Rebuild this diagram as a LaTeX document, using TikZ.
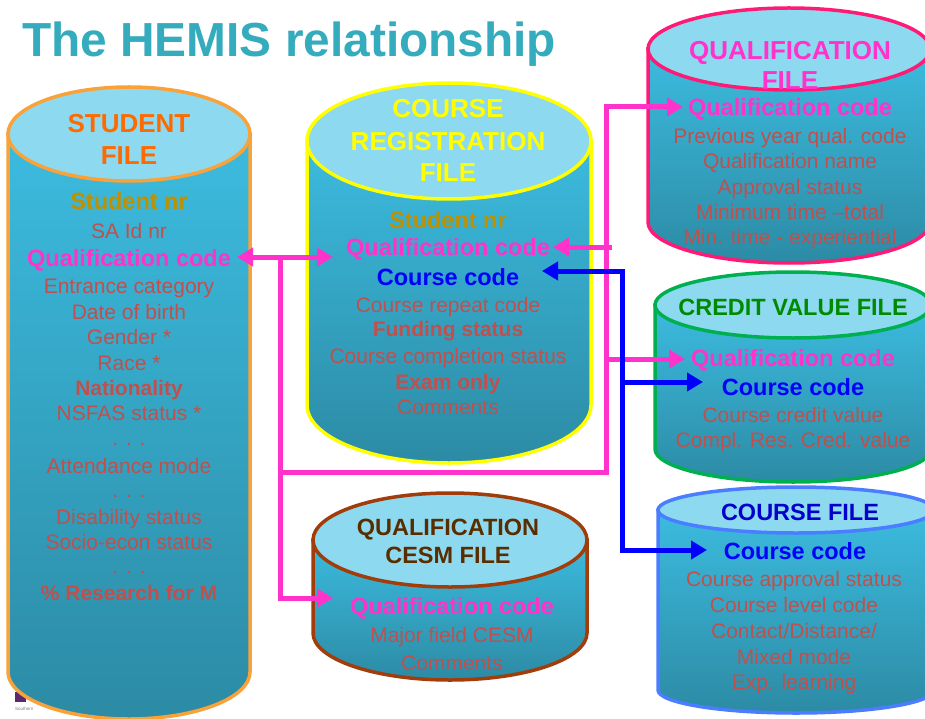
\documentclass[tikz,border=0pt]{standalone}
\usepackage{fontspec}
\setmainfont{Liberation Sans}
\usetikzlibrary{arrows.meta}
\definecolor{bodytop}{HTML}{3CBBDF}
\definecolor{bodybot}{HTML}{2C8BA5}
\definecolor{lidcol}{HTML}{8DD9EF}
\definecolor{fieldred}{HTML}{C0504D}
\definecolor{goldtxt}{HTML}{BF9000}
\definecolor{magtxt}{HTML}{FF33CC}
\definecolor{bluetxt}{HTML}{0000FF}
\definecolor{titlecol}{HTML}{35ACBD}
\definecolor{orangetxt}{HTML}{FF6A00}
\definecolor{yellowtxt}{HTML}{FFFF00}
\definecolor{greentxt}{HTML}{008A00}
\definecolor{navytxt}{HTML}{0000CC}
\definecolor{browntxt}{HTML}{5A2D00}
\definecolor{bdorange}{HTML}{F9A23A}
\definecolor{bdyellow}{HTML}{FFFF00}
\definecolor{bdpink}{HTML}{FF1A75}
\definecolor{bdgreen}{HTML}{00B050}
\definecolor{bdblue}{HTML}{4A7DFF}
\definecolor{bdbrown}{HTML}{A13D0A}
\definecolor{pinkline}{HTML}{FF33CC}
\definecolor{blueline}{HTML}{0000FF}
\definecolor{logopurple}{HTML}{5B2A6E}

\newcommand{\dbcyl}[6]{%
  \pgfmathsetmacro\xl{#1-#4}\pgfmathsetmacro\xr{#1+#4}%
  \pgfmathsetmacro\kx{0.5523*#4}\pgfmathsetmacro\ky{0.5523*#5}%
  \pgfmathsetmacro\yb{#3+#5}%
  \pgfmathsetmacro\ykb{#3+\ky}%
  \pgfmathsetmacro\xkl{#1-\kx}\pgfmathsetmacro\xkr{#1+\kx}%
  \shade[top color=bodytop,bottom color=bodybot,draw=#6,line width=3.5pt]
    (\xl,#2) -- (\xl,#3) .. controls (\xl,\ykb) and (\xkl,\yb) .. (#1,\yb)
    .. controls (\xkr,\yb) and (\xr,\ykb) .. (\xr,#3) -- (\xr,#2) -- cycle;
  \filldraw[fill=lidcol,draw=#6,line width=3.5pt] (#1,#2) ellipse [x radius=#4, y radius=#5];
}

\begin{document}
\begin{tikzpicture}[x=1pt,y=-1pt,
  every node/.style={inner sep=0pt,anchor=center,text depth=0pt},
  fld/.style={text=fieldred,font=\fontsize{21}{25}\selectfont,text height=15pt},
  fldb/.style={text=fieldred,font=\fontsize{21}{25}\selectfont\bfseries,text height=15pt},
  keyf/.style={font=\fontsize{23.5}{28}\selectfont\bfseries,text height=17pt},
  hdrL/.style={font=\fontsize{26}{31}\selectfont\bfseries,text height=18.7pt},
  hdrS/.style={font=\fontsize{23.5}{28}\selectfont\bfseries,text height=17pt},
  pk/.style={draw=pinkline,line width=5pt},
  bl/.style={draw=blueline,line width=5pt},
  arr/.tip={Triangle[length=16pt,width=18pt]}
]
\useasboundingbox (0,0) rectangle (925,719);
\fill[white] (0,0) rectangle (925,719);

% title
\node[anchor=west,text=titlecol,font=\fontsize{47.8}{56}\selectfont\bfseries,text height=34pt] (title) at (22,40) {The HEMIS relationship};

% logo fragment
\fill[logopurple] (15,692) rectangle (26,702);
\node[anchor=west,text=gray,font=\fontsize{4.5}{5}\selectfont,text height=3pt] (logo) at (15,709) {Southern};

% cylinders
\dbcyl{129}{134}{672}{121}{47}{bdorange}
\dbcyl{449}{141}{405}{142}{58}{bdyellow}
\dbcyl{789}{49}{222}{141}{41}{bdpink}
\dbcyl{793}{305}{449}{138}{33}{bdgreen}
\dbcyl{796}{510}{690}{138}{23}{bdblue}
\dbcyl{450}{540}{633}{137}{47}{bdbrown}

% STUDENT FILE
\node[hdrL,text=orangetxt] (sH1) at (129,123) {STUDENT};
\node[hdrL,text=orangetxt] (sH2) at (129,155) {FILE};
\node[keyf,text=goldtxt] (sStu) at (129,201) {Student nr};
\node[fld] (sId) at (129,231) {SA Id nr};
\node[keyf,text=magtxt] (sQual) at (129,258) {Qualification code};
\node[fld] (sEnt) at (129,286) {Entrance category};
\node[fld] (sDob) at (129,312) {Date of birth};
\node[fld] (sGen) at (129,337) {Gender *};
\node[fld] (sRace) at (129,363) {Race *};
\node[fldb] (sNat) at (129,388) {Nationality};
\node[fld] (sNsf) at (129,413) {NSFAS status *};
\node[fld] (sDot1) at (129,438) {. . .};
\node[fld] (sAtt) at (129,466) {Attendance mode};
\node[fld] (sDot2) at (129,490) {. . .};
\node[fld] (sDis) at (129,517) {Disability status};
\node[fld] (sSoc) at (129,542) {Socio-econ status};
\node[fld] (sDot3) at (129,566) {. . .};
\node[fldb] (sRes) at (129,593) {\% Research for M};

% COURSE REGISTRATION FILE
\node[hdrL,text=yellowtxt] (cH1) at (448,108) {COURSE};
\node[hdrL,text=yellowtxt] (cH2) at (448,141) {REGISTRATION};
\node[hdrL,text=yellowtxt] (cH3) at (448,172) {FILE};
\node[keyf,text=goldtxt] (crStu) at (448,220) {Student nr};
\node[keyf,text=magtxt] (crQual) at (448,247) {Qualification code};
\node[keyf,text=bluetxt] (crCourse) at (448,277) {Course code};
\node[fld] (crRep) at (448,305) {Course repeat code};
\node[fldb] (crFun) at (448,329) {Funding status};
\node[fld] (crComp) at (448,356) {Course completion status};
\node[fldb] (crExam) at (448,382) {Exam only};
\node[fld] (crCom) at (448,407) {Comments};

% QUALIFICATION FILE
\node[hdrL,text=magtxt] (qH1) at (790,50) {QUALIFICATION};
\node[hdrL,text=magtxt] (qH2) at (790,80) {FILE};
\node[keyf,text=magtxt] (qfQual) at (790,107) {Qualification code};
\node[fld] (qPrev) at (790,136) {Previous year qual. code};
\node[fld] (qName) at (790,161) {Qualification name};
\node[fld] (qAppr) at (790,187) {Approval status};
\node[fld] (qMin) at (790,212) {Minimum time --total};
\node[fld] (qMinE) at (790,237) {Min. time - experiential};

% CREDIT VALUE FILE
\node[hdrS,text=greentxt] (cvH) at (793,307) {CREDIT VALUE FILE};
\node[keyf,text=magtxt] (cvQual) at (793,358) {Qualification code};
\node[keyf,text=bluetxt] (cvCourse) at (793,387) {Course code};
\node[fld] (cvVal) at (793,415) {Course credit value};
\node[fld] (cvRes) at (793,440) {Compl. Res. Cred. value};

% COURSE FILE
\node[hdrS,text=navytxt] (cfH) at (800,512) {COURSE FILE};
\node[keyf,text=bluetxt] (cfCourse) at (795,551) {Course code};
\node[fld] (cfAppr) at (794,579) {Course approval status};
\node[fld] (cfLev) at (794,605) {Course level code};
\node[fld] (cfCon) at (794,631) {Contact/Distance/};
\node[fld] (cfMix) at (794,657) {Mixed mode};
\node[fld] (cfExp) at (794,682) {Exp. learning};

% QUALIFICATION CESM FILE
\node[hdrS,text=browntxt] (cmH1) at (448,527) {QUALIFICATION};
\node[hdrS,text=browntxt] (cmH2) at (448,555) {CESM FILE};
\node[keyf,text=magtxt] (cmQual) at (452,606) {Qualification code};
\node[fld] (cmMaj) at (452,635) {Major field CESM};
\node[fld] (cmCom) at (452,663) {Comments};

% connector points
\coordinate (sQin) at (237,257);
\coordinate (crQin) at (333,257);
\coordinate (pTop) at (280,257);
\coordinate (pMid) at (280,472);
\coordinate (pBot) at (280,598);
\coordinate (cmQin) at (333,598);
\coordinate (pCor) at (606,472);
\coordinate (pUp) at (606,107);
\coordinate (qfQin) at (683,107);
\coordinate (pCv) at (606,359);
\coordinate (cvQin) at (685,359);
\coordinate (pStub) at (612,247);
\coordinate (crQin2) at (553,247);
\coordinate (bTop) at (622,271);
\coordinate (crCin) at (542,271);
\coordinate (bMid) at (622,382);
\coordinate (cvCin) at (703,382);
\coordinate (bBot) at (622,550);
\coordinate (cfCin) at (707,550);

% pink connectors
\draw[pk,arr-arr] (sQin) -- (crQin);
\draw[pk,-arr] (pTop) -- (pBot) -- (cmQin);
\draw[pk,-arr] (pMid) -- (pCor) -- (pUp) -- (qfQin);
\draw[pk,-arr] (pCv) -- (cvQin);
\draw[pk,-arr] (pStub) -- (crQin2);
% blue connectors
\draw[bl,arr-arr] (crCin) -- (bTop) -- (bBot) -- (cfCin);
\draw[bl,-arr] (bMid) -- (cvCin);
\end{tikzpicture}
\end{document}
